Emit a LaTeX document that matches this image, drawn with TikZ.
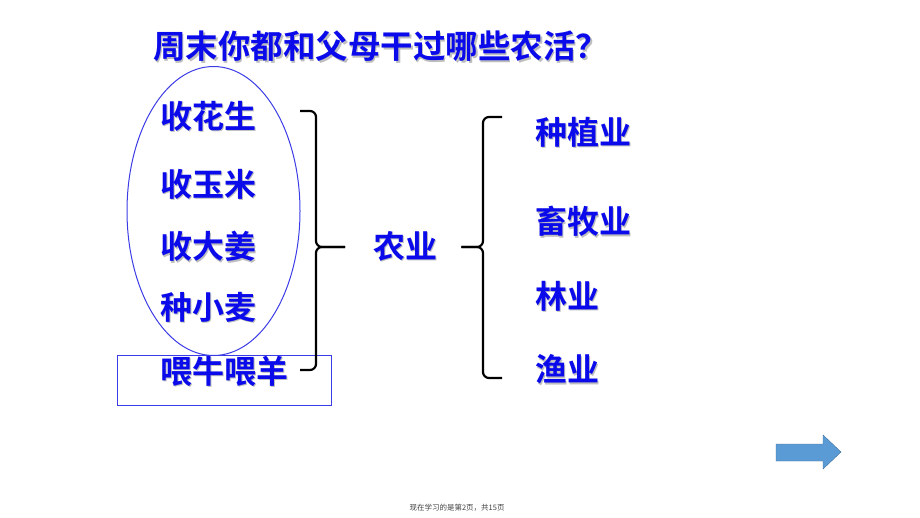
\documentclass[tikz,border=0pt]{standalone}
\usepackage{fontspec}
\newfontfamily\cjk{Noto Sans CJK SC}[BoldFont={Noto Sans CJK SC Bold}]
\usepackage{tikz}
\usetikzlibrary{positioning}
\usetikzlibrary{shapes.geometric}
\definecolor{itemblue}{RGB}{10,10,235}
\definecolor{shadowgray}{RGB}{190,190,190}
\definecolor{ringblue}{RGB}{60,60,230}
\definecolor{arrowfill}{RGB}{91,155,213}
\definecolor{arrowline}{RGB}{65,113,156}
\newcommand\shadowtxt[1]{\rlap{\hspace{1.6pt}\raisebox{-1.6pt}{\textcolor{shadowgray}{#1}}}#1}
\tikzset{
    crop/.style={
           font=\cjk\bfseries\fontsize{32}{36}\selectfont,
           text=itemblue,
           anchor=west,
           inner sep=0pt,
           },
    question/.style={
           font=\cjk\bfseries\fontsize{32.5}{36}\selectfont,
           text=itemblue,
           anchor=west,
           inner sep=0pt,
           },
    ring/.style={
           draw=ringblue, line width=1pt,
           inner sep=0pt,
           },
    curly/.style={
           draw=black, line width=2.2pt,
           rounded corners=6pt,
           },
}

\begin{document}
\begin{tikzpicture}[x=1pt, y=-1pt]
	\useasboundingbox (0,0) rectangle (920,518);
	
	\node[question] (title) at (153,47) {\shadowtxt{周末你都和父母干过哪些农活？}};
	
	% what the family did
	\node[crop] (peanut) at (160,117) {\shadowtxt{收花生}};
	\node[crop] (corn) at (160,185) {\shadowtxt{收玉米}};
	\node[crop] (ginger) at (160,247) {\shadowtxt{收大姜}};
	\node[crop] (wheat) at (160,308) {\shadowtxt{种小麦}};
	\node[crop] (feed) at (160,372) {\shadowtxt{喂牛喂羊}};
	
	\node[ring, ellipse, minimum width=173pt, minimum height=289pt] (plants) at (213.5,211) {};
	\node[ring, rectangle, minimum width=214pt, minimum height=50pt] (animals) at (224,380) {};
	
	\node[crop] (agri) at (373,247) {\shadowtxt{农业}};
	
	% branches
	\node[crop] (farming) at (535,133) {\shadowtxt{种植业}};
	\node[crop] (herding) at (535,222) {\shadowtxt{畜牧业}};
	\node[crop] (forest) at (535,297) {\shadowtxt{林业}};
	\node[crop] (fishing) at (535,370) {\shadowtxt{渔业}};
	
	\coordinate (b1top) at (300,111);
	\coordinate (b1bot) at (300,370);
	\coordinate (b1tip) at ([xshift=-28pt]agri.west);
	\coordinate (b2top) at (502,117);
	\coordinate (b2bot) at (502,378);
	\coordinate (b2tip) at ([xshift=24pt]agri.east);
	
	\path[curly] (b1top) -- ++(16,0) |- (b1tip);
	\path[curly] (b1bot) -- ++(16,0) |- (b1tip);
	\path[curly] (b2top) -- ++(-19,0) |- (b2tip);
	\path[curly] (b2bot) -- ++(-19,0) |- (b2tip);
	
	% next page button
	\draw[fill=arrowfill, draw=arrowline, thin]
		(776,444) -- (823,444) -- (823,435) -- (841,452) -- (823,469) -- (823,461) -- (776,461) -- cycle;
	
	\node[font=\cjk\fontsize{7.5}{9}\selectfont, text=black!75] (footer) at (457,508) {现在学习的是第2页，共15页};

\end{tikzpicture}
\end{document}
